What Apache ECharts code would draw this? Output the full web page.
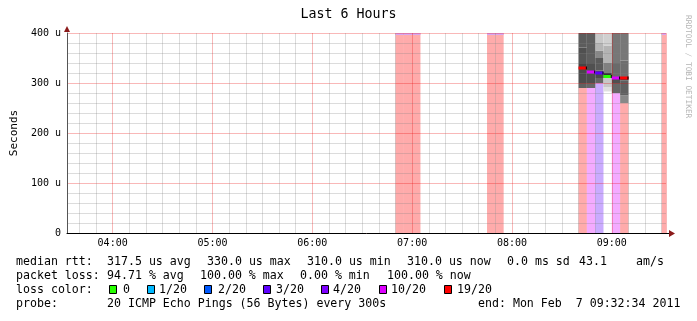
<!DOCTYPE html>
<html><head><meta charset="utf-8">
<script src="https://cdn.jsdelivr.net/npm/echarts@6.0.0/dist/echarts.min.js"></script>
<style>html,body{margin:0;padding:0;background:#fff}#c{width:697px;height:321px}</style>
</head><body><div id="c"></div>
<script>
// ---------------- data ----------------
const titleText = "Last 6 Hours";
const yAxisTitle = "Seconds";
const hourLabels = ["04:00", "05:00", "06:00", "07:00", "08:00", "09:00"];
const axisStart = "03:32:34";
const axisEnd = "09:32:34";
const stepMinutes = 5;
const yMax = 400;
// samples with 100% packet loss (no rtt)
const fullLossStart = ["06:50", "06:55", "07:00", "07:45", "07:50", "09:30"];
// samples with rtt data
const rttStart = ["08:40", "08:45", "08:50", "08:55", "09:00", "09:05"];
const medianRtt = [330, 322, 320, 313, 310, 310];          // us
const lossCount = [19, 10, 3, 0, 10, 19];                  // of 20 pings
const smokeLow = [290, 290, 300, 283, 280, 260];           // us, bottom of smoke
const smokeEdges = [
  [290, 300, 316, 330, 340, 360, 371, 400],
  [290, 300, 323, 340, 400],
  [300, 310, 325, 350, 365, 380, 400],
  [283, 292, 310, 320, 340, 375, 400],
  [280, 300, 312, 340, 400],
  [260, 275, 305, 312, 345, 400]
];
const smokeShade = [       // grey level of each smoke band (bottom to top)
  [96, 76, 74, 69, 85, 80, 92],
  [104, 79, 80, 94],
  [100, 74, 90, 136, 181, 200],
  [224, 200, 51, 128, 180, 208],
  [102, 80, 106, 119],
  [136, 96, 68, 110, 119]
];
const lossLevels = ["0", "1/20", "2/20", "3/20", "4/20", "10/20", "19/20"];
const lossThreshold = [0, 1, 2, 3, 4, 10, 19];
const fullLossCount = 20;
const rttLabel = "median rtt:";
const rttStats = ["317.5 us avg", "330.0 us max", "310.0 us min", "310.0 us now", "0.0 ms sd", "43.1", "am/s"];
const lossLabel = "packet loss:";
const lossStats = ["94.71 % avg", "100.00 % max", "0.00 % min", "100.00 % now"];
const lossColorLabel = "loss color:";
const probeLabel = "probe:";
const probeText = "20 ICMP Echo Pings (56 Bytes) every 300s";
const endText = "end: Mon Feb  7 09:32:34 2011";
const creditText = "RRDTOOL / TOBI OETIKER";

// ---------------- style ----------------
const lossColors = ["#26ff00", "#00b8ff", "#0059ff", "#5e00ff", "#7e00ff", "#dd00ff", "#ff0000"];
const MONO = '"DejaVu Sans Mono", "Liberation Mono", monospace';

function toHours(s) {
  const p = s.split(":").map(Number);
  return p[0] + p[1] / 60 + (p[2] || 0) / 3600;
}
function bucket(n) {
  let b = 0;
  for (let i = 0; i < lossThreshold.length; i++) if (n >= lossThreshold[i]) b = i;
  return b;
}
const step = stepMinutes / 60;
const xMin = toHours(axisStart), xMax = toHours(axisEnd);

// loss bars
const lossData = [];
fullLossStart.forEach(s => { const t = toHours(s); lossData.push([t, t + step, yMax, fullLossCount]); });
rttStart.forEach((s, i) => { if (lossCount[i] > 0) { const t = toHours(s); lossData.push([t, t + step, smokeLow[i], lossCount[i]]); } });
// smoke bands
const smokeData = [];
rttStart.forEach((s, i) => {
  const t = toHours(s), e = smokeEdges[i];
  for (let k = 0; k < e.length - 1; k++) smokeData.push([t, t + step, e[k], e[k + 1], smokeShade[i][k]]);
});
// medians
const medianData = rttStart.map((s, i) => { const t = toHours(s); return [t, t + step, medianRtt[i], lossCount[i]]; });

function clipRect(params, api, x0, x1, y0, y1) {
  const a = api.coord([x0, y1]), b = api.coord([x1, y0]);
  const cs = params.coordSys;
  return echarts.graphic.clipRectByRect(
    { x: a[0], y: a[1], width: b[0] - a[0], height: b[1] - a[1] },
    { x: cs.x, y: cs.y, width: cs.width, height: cs.height });
}

const chart = echarts.init(document.getElementById('c'), null, { renderer: 'canvas' });

// footer graphics
const fs = 11.6;
const rows = [261.5, 275.5, 289.5, 303.5];
const g = [];
function txt(text, x, y, extra) {
  g.push(Object.assign({ type: 'text', x: x, y: y, z: 100,
    style: { text: text, font: fs + 'px ' + MONO, fill: '#000', textVerticalAlign: 'middle' } }, extra || {}));
}
txt(rttLabel, 16, rows[0]);
[107, 207, 307, 407, 507, 579, 636].forEach((x, i) => txt(rttStats[i], x, rows[0]));
txt(lossLabel, 16, rows[1]);
[107, 200, 300, 387].forEach((x, i) => txt(lossStats[i], x, rows[1]));
txt(lossColorLabel, 16, rows[2]);
const boxX = [109, 147, 204, 263, 321, 379, 444];
const lblX = [123, 159, 218, 276, 333, 391, 457];
lossLevels.forEach((l, i) => {
  g.push({ type: 'rect', z: 100, shape: { x: boxX[i] + 0.5, y: rows[2] - 4, width: 7, height: 8 },
    style: { fill: lossColors[i], stroke: '#000', lineWidth: 1 } });
  txt(l, lblX[i], rows[2]);
});
txt(probeLabel, 16, rows[3]);
txt(probeText, 107, rows[3]);
txt(endText, 478, rows[3]);
// credit on the right
g.push({ type: 'text', x: 688, y: 15, rotation: -Math.PI / 2, z: 100,
  style: { text: creditText, font: '7.8px ' + MONO, fill: '#b4b4b4', textVerticalAlign: 'middle', textAlign: 'left' } });
// axis arrows
g.push({ type: 'polygon', z: 100, shape: { points: [[67, 26], [64, 32], [70, 32]] }, style: { fill: '#8b1a1a' } });
g.push({ type: 'line', z: 100, shape: { x1: 666, y1: 233.5, x2: 669, y2: 233.5 }, style: { stroke: '#000', lineWidth: 1 } });
g.push({ type: 'polygon', z: 100, shape: { points: [[669, 230], [675, 233.5], [669, 237]] }, style: { fill: '#8b1a1a' } });

const majorGrid = 'rgba(235,0,0,0.28)';
const minorGrid = 'rgba(128,128,128,0.28)';

chart.setOption({
  animation: false,
  backgroundColor: '#fff',
  title: {
    text: titleText, left: 'center', top: 8, padding: 0,
    textStyle: { fontFamily: MONO, fontSize: 13.3, fontWeight: 'normal', color: '#000' }
  },
  grid: { left: 67, right: 31, top: 33, bottom: 88, outerBoundsMode: 'none' },
  xAxis: {
    type: 'value', min: xMin, max: xMax, minInterval: 1, maxInterval: 1, splitNumber: 6, z: 3,
    axisLine: { show: true, onZero: false, lineStyle: { color: '#000', width: 1 } },
    axisTick: { show: false },
    axisLabel: {
      margin: 5, fontFamily: MONO, fontSize: 10, color: '#000', showMinLabel: false, showMaxLabel: false,
      formatter: v => { const k = hourLabels.findIndex(h => Math.abs(toHours(h) - v) < 1e-6); return k >= 0 ? hourLabels[k] : ''; }
    },
    splitLine: { show: true, lineStyle: { color: majorGrid, width: 1 } },
    minorTick: { show: false, splitNumber: 6 },
    minorSplitLine: { show: true, lineStyle: { color: minorGrid, width: 1 } }
  },
  yAxis: {
    type: 'value', min: 0, max: yMax, interval: 100, z: 3,
    name: yAxisTitle, nameLocation: 'middle', nameGap: 47,
    nameTextStyle: { fontFamily: MONO, fontSize: 11, color: '#000' },
    axisLine: { show: true, lineStyle: { color: '#555', width: 1 } },
    axisTick: { show: false },
    axisLabel: { margin: 6, fontFamily: MONO, fontSize: 10, color: '#000', formatter: v => v === 0 ? '0' : v + ' u' },
    splitLine: { show: true, lineStyle: { color: majorGrid, width: 1 } },
    minorTick: { show: false, splitNumber: 5 },
    minorSplitLine: { show: true, lineStyle: { color: minorGrid, width: 1 } }
  },
  graphic: g,
  series: [
    {
      type: 'custom', name: 'loss', z: 1, data: lossData, encode: { x: [0, 1], y: 2 },
      renderItem: (params, api) => {
        const x0 = api.value(0), x1 = api.value(1), top = api.value(2), n = api.value(3);
        const col = lossColors[bucket(n)];
        const r = clipRect(params, api, x0, x1, 0, top);
        if (!r) return null;
        const children = [{ type: 'rect', shape: r, style: { fill: col, opacity: 0.33 } }];
        if (n >= fullLossCount) {
          children.push({ type: 'rect', shape: { x: r.x, y: r.y, width: r.width, height: 2 }, style: { fill: '#d6a8f2' } });
        }
        return { type: 'group', children: children };
      }
    },
    {
      type: 'custom', name: 'smoke', z: 2, data: smokeData, encode: { x: [0, 1], y: [2, 3] },
      renderItem: (params, api) => {
        const r = clipRect(params, api, api.value(0), api.value(1), api.value(2), api.value(3));
        if (!r) return null;
        const s = api.value(4);
        return { type: 'rect', shape: r, style: { fill: 'rgb(' + s + ',' + s + ',' + s + ')' } };
      }
    },
    {
      type: 'custom', name: 'median', z: 4, data: medianData, encode: { x: [0, 1], y: 2 },
      renderItem: (params, api) => {
        const a = api.coord([api.value(0), api.value(2)]);
        const b = api.coord([api.value(1), api.value(2)]);
        const col = lossColors[bucket(api.value(3))];
        return { type: 'group', children: [
          { type: 'rect', shape: { x: a[0], y: a[1] - 1.5, width: b[0] - a[0], height: 3 }, style: { fill: col } },
          { type: 'rect', shape: { x: b[0] - 1, y: a[1] - 1.5, width: 1, height: 3 }, style: { fill: '#000' } }
        ] };
      }
    }
  ]
});
</script>
</body></html>
